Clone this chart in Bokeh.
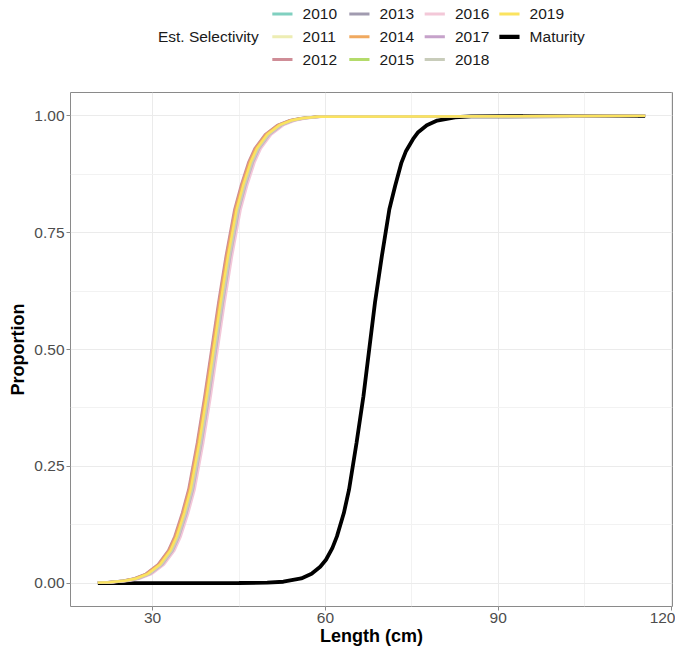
from bokeh.plotting import figure
from bokeh.models import Range1d, FixedTicker
from bokeh.layouts import column
from bokeh.core.properties import value
from bokeh.embed import file_html
from bokeh.resources import INLINE

# ---------------- data ----------------
years = ["2010", "2011", "2012", "2013", "2014", "2015", "2016", "2017", "2018", "2019"]
year_colors = ["#80D0C0", "#EDEDB3", "#CF8D97", "#A19BB0", "#F0A95F",
               "#B4DB6B", "#F3C8D8", "#C6A2CA", "#C8CCBA", "#FBE35F"]
legend_title = "Est. Selectivity"
maturity_label = "Maturity"

# proportion levels shared by every selectivity curve
sel_prop = [0.001, 0.002, 0.005, 0.01, 0.02, 0.04, 0.07, 0.1, 0.15, 0.2, 0.3, 0.4, 0.5,
            0.6, 0.7, 0.8, 0.85, 0.9, 0.93, 0.96, 0.98, 0.99, 0.995, 0.998, 1.0]

# length (cm) at which each year's selectivity reaches the levels above
len_2010 = [20.5, 22.2, 24.9, 26.9, 28.9, 31.0, 32.8, 33.9, 35.2, 36.3, 37.8, 39.1, 40.3,
            41.5, 42.8, 44.3, 45.4, 46.7, 47.8, 49.6, 51.7, 53.7, 55.7, 58.4, 115.5]
len_2011 = [20.5, 22.6, 25.3, 27.3, 29.3, 31.4, 33.2, 34.3, 35.6, 36.7, 38.2, 39.5, 40.7,
            41.9, 43.2, 44.7, 45.8, 47.1, 48.2, 50.0, 52.1, 54.1, 56.1, 58.8, 115.5]
len_2012 = [20.5, 22.1, 24.8, 26.8, 28.8, 30.9, 32.7, 33.8, 35.1, 36.2, 37.7, 39.0, 40.2,
            41.4, 42.7, 44.2, 45.3, 46.6, 47.7, 49.5, 51.6, 53.6, 55.6, 58.3, 115.5]
len_2013 = [20.5, 22.4, 25.1, 27.1, 29.1, 31.2, 33.0, 34.1, 35.4, 36.5, 38.0, 39.3, 40.5,
            41.7, 43.0, 44.5, 45.6, 46.9, 48.0, 49.8, 51.9, 53.9, 55.9, 58.6, 115.5]
len_2014 = [20.5, 22.3, 25.0, 27.0, 29.0, 31.1, 32.9, 34.0, 35.3, 36.4, 37.9, 39.2, 40.4,
            41.6, 42.9, 44.4, 45.5, 46.8, 47.9, 49.7, 51.8, 53.8, 55.8, 58.5, 115.5]
len_2015 = [20.5, 22.7, 25.4, 27.4, 29.4, 31.5, 33.3, 34.4, 35.7, 36.8, 38.3, 39.6, 40.8,
            42.0, 43.3, 44.8, 45.9, 47.2, 48.3, 50.1, 52.2, 54.2, 56.2, 58.9, 115.5]
len_2016 = [20.5, 23.2, 25.9, 27.9, 29.9, 32.0, 33.8, 34.9, 36.2, 37.3, 38.8, 40.1, 41.3,
            42.5, 43.8, 45.3, 46.4, 47.7, 48.8, 50.6, 52.7, 54.7, 56.7, 59.4, 115.5]
len_2017 = [20.5, 22.9, 25.6, 27.6, 29.6, 31.7, 33.5, 34.6, 35.9, 37.0, 38.5, 39.8, 41.0,
            42.2, 43.5, 45.0, 46.1, 47.4, 48.5, 50.3, 52.4, 54.4, 56.4, 59.1, 115.5]
len_2018 = [20.5, 22.8, 25.5, 27.5, 29.5, 31.6, 33.4, 34.5, 35.8, 36.9, 38.4, 39.7, 40.9,
            42.1, 43.4, 44.9, 46.0, 47.3, 48.4, 50.2, 52.3, 54.3, 56.3, 59.0, 115.5]
len_2019 = [20.5, 22.5, 25.2, 27.2, 29.2, 31.3, 33.1, 34.2, 35.5, 36.6, 38.1, 39.4, 40.6,
            41.8, 43.1, 44.6, 45.7, 47.0, 48.1, 49.9, 52.0, 54.0, 56.0, 58.7, 115.5]

sel_lengths = [len_2010, len_2011, len_2012, len_2013, len_2014,
               len_2015, len_2016, len_2017, len_2018, len_2019]

# maturity ogive
mat_len = [20.5, 45.0, 49.9, 52.7, 55.8, 57.6, 59.1, 60.1, 61.2, 62.0, 63.2, 64.1, 65.4, 66.6,
           67.6, 68.6, 69.8, 71.1, 72.1, 73.2, 74.0, 75.2, 76.1, 77.6, 79.4, 82.5, 85.3, 115.5]
mat_prop = [0.0, 0.0003, 0.001, 0.003, 0.01, 0.02, 0.035, 0.05, 0.075, 0.1, 0.15, 0.2, 0.3, 0.4,
            0.5, 0.6, 0.7, 0.8, 0.85, 0.9, 0.925, 0.95, 0.965, 0.98, 0.99, 0.997, 0.999, 1.0]

x_ticks = [30, 60, 90, 120]
x_minor = [45, 75, 105]
y_ticks = [0.0, 0.25, 0.5, 0.75, 1.0]
y_minor = [0.125, 0.375, 0.625, 0.875]
y_tick_labels = ["0.00", "0.25", "0.50", "0.75", "1.00"]

FONT = "Liberation Sans"
W = 675
LEG_H = 80
MAIN_H = 569

# ---------------- legend strip ----------------
# its frame is aligned with the main plot's frame; x spans the frame in pixel units
leg = figure(width=W, height=LEG_H, x_range=Range1d(71.7, 668.3), y_range=Range1d(LEG_H, 0),
             output_backend="svg", toolbar_location=None, min_border=0)
leg.axis.visible = False
leg.grid.visible = False
leg.outline_line_color = None
leg.background_fill_color = "white"
leg.border_fill_color = "white"

col_x = [271.7, 348.0, 422.7, 496.7]
row_y = [13.5, 36.3, 59.1]
leg_labels = years + [maturity_label]
leg_colors = year_colors + ["black"]
leg_widths = [3.0] * len(years) + [4.2]
gx0, gx1, tx, ty = [], [], [], []
for i in range(len(leg_labels)):
    c, r = divmod(i, 3)
    gx0.append(col_x[c])
    gx1.append(col_x[c] + 20)
    tx.append(col_x[c] + 30)
    ty.append(row_y[r])
leg.segment(x0=gx0, y0=ty, x1=gx1, y1=ty, line_color=leg_colors, line_width=leg_widths)
leg.text(x=tx, y=ty, text=leg_labels, text_font=value(FONT), text_font_size="15.5px",
         text_color="#1A1A1A", text_baseline="middle", text_align="left")
leg.text(x=[158.3], y=[row_y[1]], text=[legend_title], text_font=value(FONT),
         text_font_size="15.5px", text_color="#1A1A1A", text_baseline="middle",
         text_align="left")

# ---------------- main plot ----------------
p = figure(width=W, height=MAIN_H,
           x_range=Range1d(15.75, 120.25), y_range=Range1d(-0.05, 1.05),
           output_backend="svg", toolbar_location=None,
           min_border_left=70, min_border_right=3, min_border_top=12, min_border_bottom=43)

p.background_fill_color = "white"
p.border_fill_color = "white"
p.outline_line_color = "#8A8A8A"
p.outline_line_width = 1

for g in (p.xgrid, p.ygrid):
    g.grid_line_color = "#EBEBEB"
    g.grid_line_width = 1
    g.minor_grid_line_color = "#F2F2F2"
    g.minor_grid_line_width = 1

p.xaxis.ticker = FixedTicker(ticks=x_ticks, minor_ticks=x_minor)
p.yaxis.ticker = FixedTicker(ticks=y_ticks, minor_ticks=y_minor)
p.yaxis.major_label_overrides = {t: s for t, s in zip(y_ticks, y_tick_labels)}

for ax in (p.xaxis[0], p.yaxis[0]):
    ax.axis_line_color = None
    ax.major_tick_line_color = "#8A8A8A"
    ax.major_tick_out = 4
    ax.major_tick_in = 0
    ax.minor_tick_line_color = None
    ax.major_label_text_font = FONT
    ax.major_label_text_font_size = "15.5px"
    ax.major_label_text_color = "#4D4D4D"
    ax.axis_label_text_font = FONT
    ax.axis_label_text_font_size = "18px"
    ax.axis_label_text_font_style = "bold"
    ax.axis_label_text_color = "black"

p.xaxis.axis_label = "Length (cm)"
p.yaxis.axis_label = "Proportion"
p.xaxis.major_label_standoff = 2
p.xaxis.axis_label_standoff = 0
p.yaxis.major_label_standoff = 2
p.yaxis.axis_label_standoff = 3

# maturity drawn first (underneath)
p.line(mat_len, mat_prop, line_color="black", line_width=3.8)
for col, lens in zip(year_colors, sel_lengths):
    p.line(lens, sel_prop, line_color=col, line_width=2.4)

layout = column(leg, p, spacing=0)
open("out.html", "w").write(file_html(layout, INLINE))
